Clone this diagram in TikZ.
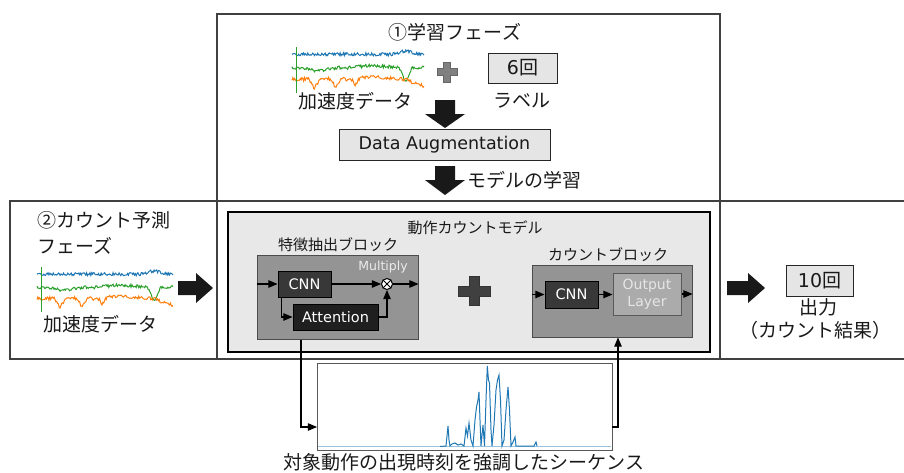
\documentclass[tikz,border=0pt]{standalone}
\usepackage{fontspec}
\setmainfont{Noto Sans CJK JP}
\newfontfamily\latinfont{DejaVu Sans}
\usepackage{xcolor}
\usepackage{tikz}
\usetikzlibrary{arrows}

\definecolor{tabblue}{HTML}{1F77B4}
\definecolor{taborange}{HTML}{FF7F0E}
\definecolor{tabgreen}{HTML}{2CA02C}

% three noisy sensor axes, drawn in a unit box (y downwards)
\newcommand{\accwave}{%
  \pgfmathsetseed{11}
  \draw[tabblue,line width=1pt] plot[domain=0:1,samples=160]
    (\x,{0.16-0.08*max(0,1-abs((\x-0.86)/0.1))+0.035*rand});
  \draw[tabgreen,line width=1pt] plot[domain=0:1,samples=160]
    (\x,{0.45+0.07*max(0,1-abs((\x-0.2)/0.15))-0.05*max(0,1-abs((\x-0.62)/0.2))+0.3*max(0,1-abs((\x-0.86)/0.05))+0.035*rand});
  \draw[taborange,line width=1pt] plot[domain=0:1,samples=160]
    (\x,{0.7+0.2*max(0,1-abs((\x-0.17)/0.04))+0.18*max(0,1-abs((\x-0.33)/0.04))+0.16*max(0,1-abs((\x-0.48)/0.03))-0.05*max(0,1-abs((\x-0.62)/0.2))+0.15*max(0,(\x-0.85)/0.15)+0.04*rand});
  \draw[tabgreen,line width=1pt] (0.035,0) -- (0.035,1);
}

\tikzset{
  bigtxt/.style={font=\fontsize{19}{23}\selectfont, text=black!90},
  midtxt/.style={font=\fontsize{15}{18}\selectfont, text=black!90},
  lightbox/.style={draw=black!85, fill=black!10, line width=1pt, inner sep=0pt},
  block/.style={draw=black!70, fill=black!42, line width=1pt, inner sep=0pt},
  darkbox/.style={draw=black, fill=black!78, text=white, line width=1pt, inner sep=0pt,
    font=\latinfont\fontsize{14.5}{17}\selectfont},
  bigarr/.style={fill=black!90},
  flow/.style={->, line width=1.1pt},
}

\begin{document}
\begin{tikzpicture}[x=1pt,y=-1pt,>=triangle 45]
\useasboundingbox (0,0) rectangle (904,472);

    % phase frames
    \draw[black!75, line width=1.2pt] (217,14) rectangle (720,359);
    \draw[black!75, line width=1.2pt] (10,201) rectangle (910,359);

    % --- learning phase
    \node[bigtxt] (ph1) at (455,32) {①学習フェーズ};
    \begin{scope}[shift={(292,47)}, x=132pt, y=-46pt]
      \accwave
    \end{scope}
    \node[bigtxt] (acc1) at (355,101) {加速度データ};
    \draw[black!60, fill=black!50, line width=0.8pt] (443.5,62) -- (450.5,62) -- (450.5,68.5) -- (457,68.5)
      -- (457,75.5) -- (450.5,75.5) -- (450.5,82) -- (443.5,82) -- (443.5,75.5) -- (437,75.5)
      -- (437,68.5) -- (443.5,68.5) -- cycle;
    \node[lightbox, bigtxt, minimum width=69pt, minimum height=30pt] (lbl) at (522.5,68) {{\latinfont 6}回};
    \node[bigtxt] (lbltxt) at (522,101) {ラベル};
    \fill[bigarr] (435,100) -- ++(20,0) -- ++(0,14) -- ++(10,0) -- ++(-20,14) -- ++(-20,-14) -- ++(10,0) -- cycle;
    \node[lightbox, bigtxt, font=\latinfont\fontsize{17.5}{21}\selectfont, minimum width=211pt, minimum height=31pt] (aug) at (444.5,144.5) {Data Augmentation};
    \fill[bigarr] (435,166) -- ++(20,0) -- ++(0,14) -- ++(10,0) -- ++(-20,15) -- ++(-20,-15) -- ++(10,0) -- cycle;
    \node[bigtxt, anchor=west] (train) at (464,180) {モデルの学習};

    % --- counting phase
    \node[bigtxt, align=left, anchor=north west, font=\fontsize{19}{26}\selectfont, inner sep=0pt] (ph2) at (37,211) {②カウント予測\\フェーズ};
    \begin{scope}[shift={(37,267)}, x=136pt, y=-45pt]
      \accwave
    \end{scope}
    \node[bigtxt] (acc2) at (100,324) {加速度データ};
    \fill[bigarr] (178,281) -- ++(18,0) -- ++(0,-8) -- ++(17,15) -- ++(-17,15) -- ++(0,-8) -- ++(-18,0) -- cycle;

    % model
    \node[draw=black, fill=black!9, line width=2.6pt, minimum width=482pt, minimum height=140pt] (model) at (469,282) {};
    \node[midtxt] (mtitle) at (475,228) {動作カウントモデル};

    \node[midtxt] (ftitle) at (338,245) {特徴抽出ブロック};
    \node[block, minimum width=161pt, minimum height=84pt] (feat) at (337.5,297) {};
    \node[darkbox, minimum width=53pt, minimum height=26pt] (fcnn) at (304.5,284) {CNN};
    \node[darkbox, fill=black!88, minimum width=85pt, minimum height=26pt] (att) at (335.5,317) {Attention};
    \node[font=\latinfont\fontsize{12.5}{15}\selectfont, text=black!8] (multxt) at (383,267) {Multiply};
    \node[draw=black, fill=white, circle, line width=1pt, minimum size=11pt, inner sep=0pt] (mult) at (387,284) {};
    \draw[line width=1pt] (mult.north east) -- (mult.south west) (mult.north west) -- (mult.south east);
    \draw[flow] (feat.west |- fcnn) -- (fcnn);
    \draw[flow] (fcnn) -- (mult);
    \draw[flow] (mult) -- (feat.east |- mult);
    \draw[flow] ([xshift=4pt]fcnn.south west) |- (att.west);
    \draw[flow] (att.east) -| (mult.south);

    \draw[black!80, fill=black!75, line width=0.8pt] (469,276.5) -- (479,276.5) -- (479,286) -- (490,286)
      -- (490,296) -- (479,296) -- (479,305.5) -- (469,305.5) -- (469,296) -- (458,296)
      -- (458,286) -- (469,286) -- cycle;

    \node[midtxt] (ctitle) at (608,255) {カウントブロック};
    \node[block, minimum width=160pt, minimum height=72pt] (cblk) at (612,301) {};
    \node[darkbox, minimum width=53pt, minimum height=27pt] (ccnn) at (571.5,294.5) {CNN};
    \node[darkbox, draw=black!65, fill=black!33, text=black!10, align=center, minimum width=68pt, minimum height=42pt,
      font=\latinfont\fontsize{14}{17}\selectfont] (outl) at (647,294) {Output\\Layer};
    \draw[flow] (cblk.west |- ccnn) -- (ccnn);
    \draw[flow] (ccnn) -- (ccnn -| outl.west);
    \draw[flow] (outl) -- (cblk.east |- outl);

    % output
    \fill[bigarr] (727,281) -- ++(21,0) -- ++(0,-8) -- ++(17,15) -- ++(-17,15) -- ++(0,-8) -- ++(-21,0) -- cycle;
    \node[lightbox, bigtxt, minimum width=67pt, minimum height=31pt] (cnt) at (819.5,280.5) {{\latinfont 10}回};
    \node[bigtxt] (outtxt) at (818,307) {出力};
    \node[bigtxt] (outres) at (815,330) {（カウント結果）};

    % attention sequence
    \node[draw=black!65, line width=1pt, minimum width=295pt, minimum height=87pt] (seq) at (464.5,406.5) {};
    \draw[tabblue!45, line width=1.4pt] (318,446.5) -- (611,446.5);
    \draw[tabblue, line width=1pt] (440,446.5) -- (446,446) -- (448,426) -- (449,440) -- (450,446) -- (452,444)
      -- (455,443) -- (458,445) -- (461,444) -- (464,446) -- (466,428) -- (467.5,436) -- (469,423)
      -- (471,440) -- (473,446) -- (475,420) -- (476.5,407) -- (478,400) -- (479,392) -- (480,420)
      -- (481,446) -- (483,425) -- (484.5,446) -- (486,400) -- (487.3,366) -- (488.5,380) -- (489.5,383)
      -- (491,430) -- (492,446) -- (494,425) -- (496,390) -- (497.5,380) -- (499,375) -- (500.5,400)
      -- (502,446) -- (504,440) -- (506,410) -- (508,387) -- (509.5,410) -- (511,446) -- (513,442)
      -- (515,437) -- (516,446) -- (534,446) -- (536,442) -- (537,446);
    \coordinate (seqin) at (317,427);
    \coordinate (seqout) at (612,427);
    \draw[flow] (feat.south -| 301,0) |- (seqin);
    \draw[flow] (seqout) -| (cblk.south -| 618,0);
    \node[bigtxt] (cap) at (464,462) {対象動作の出現時刻を強調したシーケンス};
\end{tikzpicture}
\end{document}
